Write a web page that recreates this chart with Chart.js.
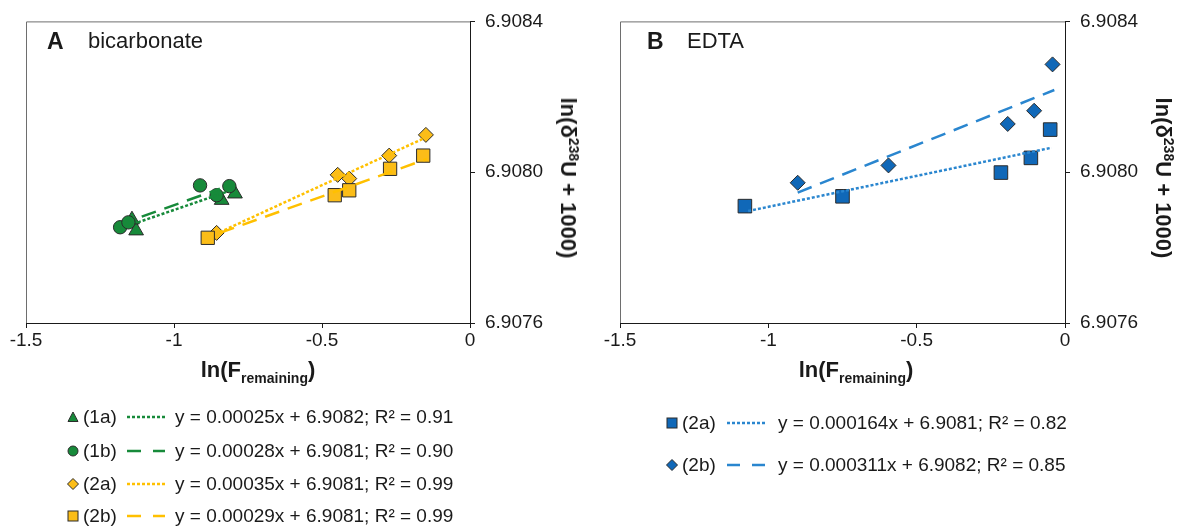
<!DOCTYPE html>
<html><head><meta charset="utf-8">
<script src="https://cdn.jsdelivr.net/npm/chart.js@4/dist/chart.umd.min.js"></script>
<style>
body{margin:0;width:1184px;height:531px;background:#fff;position:relative;overflow:hidden;font-family:"Liberation Sans",Arial,sans-serif;color:#1a1a1a}
canvas{position:absolute;top:0}
.t{position:absolute;white-space:nowrap;line-height:1}
.ytitle{position:absolute;white-space:nowrap;font-weight:bold;font-size:22px;line-height:1;transform:translate(-50%,-50%) rotate(90deg)}
.xtitle{position:absolute;white-space:nowrap;font-weight:bold;font-size:22px;line-height:1;transform:translateX(-50%)}
.sub{font-size:14px;position:relative;top:6px}
.sup{font-size:14px;position:relative;top:-8px}
.leg{position:absolute;font-size:19px;line-height:19px;white-space:nowrap}
svg{position:absolute;overflow:visible}
</style></head>
<body>
<canvas id="cA" width="592" height="390" style="left:0"></canvas>
<canvas id="cB" width="592" height="390" style="left:592px"></canvas>

<div class="t" style="left:47px;top:30px;font-size:23px;font-weight:bold">A</div>
<div class="t" style="left:88px;top:30px;font-size:22px">bicarbonate</div>
<div class="t" style="left:647px;top:30px;font-size:23px;font-weight:bold">B</div>
<div class="t" style="left:687px;top:30px;font-size:22px">EDTA</div>

<div class="xtitle" style="left:258px;top:359px">ln(F<span class="sub">remaining</span>)</div>
<div class="xtitle" style="left:856px;top:359px">ln(F<span class="sub">remaining</span>)</div>
<div class="ytitle" style="left:568px;top:178px">ln(δ<span class="sup">238</span>U + 1000)</div>
<div class="ytitle" style="left:1163px;top:178px">ln(δ<span class="sup">238</span>U + 1000)</div>

<div id="legends"></div>

<script>
// ---------- data ----------
const xTickValues = [-1.5, -1, -0.5, 0];
const xTickLabels = ['-1.5', '-1', '-0.5', '0'];
const yTickValues = [6.9076, 6.9080, 6.9084];
const yTickLabels = ['6.9076', '6.9080', '6.9084'];

// Panel A: bicarbonate
const bic1aX = [-1.128, -1.142, -0.839, -0.794];
const bic1aY = [6.907845, 6.907874, 6.907926, 6.907943];
const bic1bX = [-1.182, -1.154, -0.912, -0.856, -0.813];
const bic1bY = [6.907854, 6.907867, 6.907965, 6.907939, 6.907963];
const bic2aX = [-0.856, -0.447, -0.408, -0.273, -0.149];
const bic2aY = [6.907839, 6.907993, 6.907983, 6.908044, 6.908099];
const bic2bX = [-0.886, -0.457, -0.408, -0.270, -0.158];
const bic2bY = [6.907826, 6.907939, 6.907952, 6.908009, 6.908044];
// trend line end points
const bicTrend1aX = [-1.122, -0.822];
const bicTrend1aY = [6.907867, 6.907948];
const bicTrend1bX = [-1.109, -0.845];
const bicTrend1bY = [6.907882, 6.907956];
const bicTrend2aX = [-0.845, -0.158];
const bicTrend2aY = [6.907841, 6.908089];
const bicTrend2bX = [-0.845, -0.146];
const bicTrend2bY = [6.907839, 6.908035];

// Panel B: EDTA
const edta2aX = [-1.079, -0.750, -0.216, -0.115, -0.050];
const edta2aY = [6.907910, 6.907936, 6.907999, 6.908038, 6.908113];
const edta2bX = [-0.901, -0.595, -0.193, -0.104, -0.042];
const edta2bY = [6.907972, 6.908018, 6.908128, 6.908163, 6.908286];
const edtaTrend2aX = [-1.068, -0.045];
const edtaTrend2aY = [6.907897, 6.908065];
const edtaTrend2bX = [-0.901, -0.036];
const edtaTrend2bY = [6.907946, 6.908218];

// legend texts
const legendA = [
  ['(1a)', 'y = 0.00025x + 6.9082; R² = 0.91'],
  ['(1b)', 'y = 0.00028x + 6.9081; R² = 0.90'],
  ['(2a)', 'y = 0.00035x + 6.9081; R² = 0.99'],
  ['(2b)', 'y = 0.00029x + 6.9081; R² = 0.99']
];
const legendB = [
  ['(2a)', 'y = 0.000164x + 6.9081; R² = 0.82'],
  ['(2b)', 'y = 0.000311x + 6.9082; R² = 0.85']
];

// ---------- styling ----------
const GREEN = '#178a3a', YELLOW = '#fbbd18', YLINE = '#ffc000', BLUE = '#1068b8', BLINE = '#2a86cf';
const EDGE = '#2b2b2b';
const FONT = '"Liberation Sans", Arial, sans-serif';
const DOT = [3, 2], DASH = [15, 9];

const pts = (xs, ys) => xs.map((x, i) => ({x, y: ys[i]}));

function scatter(label, xs, ys, color, style, r) {
  return {type: 'scatter', label, data: pts(xs, ys), pointStyle: style, pointRadius: r, pointHoverRadius: r,
    backgroundColor: color, borderColor: EDGE, borderWidth: 1, order: 2};
}
function trend(label, xs, ys, color, dash) {
  return {type: 'line', label, data: pts(xs, ys), showLine: true, pointRadius: 0, borderColor: color,
    borderWidth: 2.5, borderDash: dash, fill: false, order: 1, tension: 0};
}

const frame = {
  id: 'frame',
  beforeDatasetsDraw(c) {
    const {ctx, chartArea: a} = c;
    ctx.save();
    ctx.strokeStyle = '#6e6e6e'; ctx.lineWidth = 1;
    ctx.beginPath();
    ctx.moveTo(a.left + 0.5, a.bottom); ctx.lineTo(a.left + 0.5, a.top + 0.5); ctx.lineTo(a.right, a.top + 0.5);
    ctx.stroke();
    ctx.restore();
  }
};

function options(padLeft, yWidth) {
  return {
    responsive: false, animation: false, devicePixelRatio: 1,
    layout: {padding: {left: padLeft, top: 17, right: 0, bottom: 0}},
    plugins: {legend: {display: false}, tooltip: {enabled: false}},
    scales: {
      x: {
        type: 'linear', position: 'bottom', min: -1.5, max: 0,
        afterBuildTicks: s => { s.ticks = xTickValues.map(v => ({value: v})); },
        afterFit: s => { s.height = 67; },
        ticks: {color: '#1a1a1a', font: {family: FONT, size: 19}, padding: 1,
          callback: (v, i) => xTickLabels[i]},
        grid: {drawOnChartArea: false, tickLength: 5, color: '#1a1a1a'},
        border: {color: '#1a1a1a', width: 1}
      },
      y: {
        type: 'linear', position: 'right', min: 6.9076, max: 6.9084,
        afterBuildTicks: s => { s.ticks = yTickValues.map(v => ({value: v})); },
        afterFit: s => { s.width = yWidth; },
        ticks: {color: '#1a1a1a', font: {family: FONT, size: 19}, padding: 10,
          callback: (v, i) => yTickLabels[i]},
        grid: {drawOnChartArea: false, tickLength: 5, color: '#1a1a1a'},
        border: {color: '#1a1a1a', width: 1}
      }
    }
  };
}

new Chart(document.getElementById('cA'), {
  type: 'scatter',
  data: {datasets: [
    trend('trend 1a', bicTrend1aX, bicTrend1aY, GREEN, DOT),
    trend('trend 1b', bicTrend1bX, bicTrend1bY, GREEN, DASH),
    trend('trend 2a', bicTrend2aX, bicTrend2aY, YLINE, DOT),
    trend('trend 2b', bicTrend2bX, bicTrend2bY, YLINE, DASH),
    scatter('(1b)', bic1bX, bic1bY, GREEN, 'circle', 6.7),
    scatter('(1a)', bic1aX, bic1aY, GREEN, 'triangle', 8.5),
    scatter('(2b)', bic2bX, bic2bY, YELLOW, 'rect', 9.4),
    scatter('(2a)', bic2aX, bic2aY, YELLOW, 'rectRot', 7.5)
  ]},
  options: options(26, 122),
  plugins: [frame]
});

new Chart(document.getElementById('cB'), {
  type: 'scatter',
  data: {datasets: [
    trend('trend 2a', edtaTrend2aX, edtaTrend2aY, BLINE, DOT),
    trend('trend 2b', edtaTrend2bX, edtaTrend2bY, BLINE, DASH),
    scatter('(2a)', edta2aX, edta2aY, BLUE, 'rect', 9.6),
    scatter('(2b)', edta2bX, edta2bY, BLUE, 'rectRot', 7.5)
  ]},
  options: options(28, 119),
  plugins: [frame]
});

// ---------- legends (HTML) ----------
function markerSVG(shape, fill, cx, cy) {
  let s = '';
  if (shape === 'triangle') s = `<polygon points="${cx-5},${cy+4.5} ${cx},${cy-5} ${cx+5},${cy+4.5}" fill="${fill}" stroke="${EDGE}" stroke-width="1"/>`;
  if (shape === 'circle') s = `<circle cx="${cx}" cy="${cy}" r="5" fill="${fill}" stroke="${EDGE}" stroke-width="1"/>`;
  if (shape === 'diamond') s = `<polygon points="${cx},${cy-5.5} ${cx+5.5},${cy} ${cx},${cy+5.5} ${cx-5.5},${cy}" fill="${fill}" stroke="${EDGE}" stroke-width="1"/>`;
  if (shape === 'square') s = `<rect x="${cx-5}" y="${cy-5}" width="10" height="10" fill="${fill}" stroke="${EDGE}" stroke-width="1"/>`;
  return s;
}
function lineSVG(x1, x2, y, color, dash) {
  return `<line x1="${x1}" y1="${y}" x2="${x2}" y2="${y}" stroke="${color}" stroke-width="2.5" stroke-dasharray="${dash.join(',')}"/>`;
}
const legDiv = document.getElementById('legends');
let svg = '<svg width="1184" height="531" style="left:0;top:0">';
let html = '';
const aRowsY = [417, 451, 484, 516];
const aShapes = [['triangle', GREEN, GREEN, [3, 2]], ['circle', GREEN, GREEN, [14, 12]], ['diamond', YELLOW, YLINE, [3, 2]], ['square', YELLOW, YLINE, [14, 12]]];
legendA.forEach((row, i) => {
  const y = aRowsY[i];
  svg += markerSVG(aShapes[i][0], aShapes[i][1], 73, y);
  svg += lineSVG(127, 165, y, aShapes[i][2], aShapes[i][3]);
  html += `<div class="leg" style="left:83px;top:${y-10}px">${row[0]}</div>`;
  html += `<div class="leg" style="left:175px;top:${y-10}px">${row[1]}</div>`;
});
const bRowsY = [423, 465];
const bShapes = [['square', BLUE, BLINE, [3, 2]], ['diamond', BLUE, BLINE, [13, 12]]];
legendB.forEach((row, i) => {
  const y = bRowsY[i];
  svg += markerSVG(bShapes[i][0], bShapes[i][1], 672, y);
  svg += lineSVG(727, 765, y, bShapes[i][2], bShapes[i][3]);
  html += `<div class="leg" style="left:682px;top:${y-10}px">${row[0]}</div>`;
  html += `<div class="leg" style="left:778px;top:${y-10}px">${row[1]}</div>`;
});
svg += '</svg>';
legDiv.innerHTML = svg + html;
</script>
</body></html>
